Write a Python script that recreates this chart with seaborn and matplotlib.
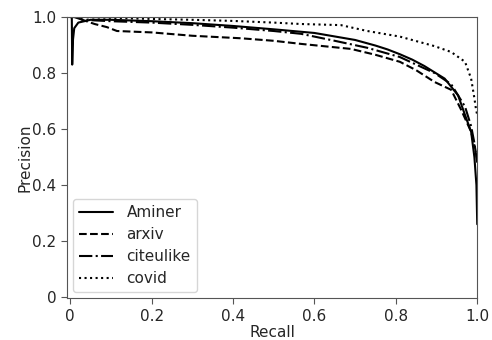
import matplotlib
matplotlib.use("Agg")
import matplotlib.pyplot as plt
import seaborn as sns
import pandas as pd

# Data
recall_aminer = [0.0, 0.004, 0.005, 0.007, 0.01, 0.02, 0.05, 0.1, 0.2, 0.3, 0.4, 0.5,
                 0.6, 0.7, 0.75, 0.78, 0.81, 0.84, 0.87, 0.92, 0.953, 0.97, 0.985, 0.993, 0.998, 1.0]
precision_aminer = [1.0, 1.0, 0.83, 0.92, 0.96, 0.98, 0.99, 0.99, 0.985, 0.978, 0.968, 0.956,
                    0.943, 0.918, 0.898, 0.884, 0.867, 0.848, 0.825, 0.78, 0.72, 0.65, 0.59, 0.50, 0.40, 0.26]

recall_arxiv = [0.0, 0.02, 0.03, 0.06, 0.09, 0.115, 0.2, 0.3, 0.42, 0.5, 0.567, 0.69,
                0.75, 0.81, 0.85, 0.895, 0.936, 0.96, 0.985, 0.995, 1.0]
precision_arxiv = [1.0, 1.0, 0.99, 0.975, 0.964, 0.95, 0.945, 0.933, 0.924, 0.915, 0.904, 0.886,
                   0.865, 0.84, 0.81, 0.768, 0.74, 0.67, 0.59, 0.53, 0.49]

recall_citeulike = [0.0, 0.01, 0.03, 0.1, 0.2, 0.3, 0.4, 0.5, 0.567, 0.65, 0.73, 0.81,
                    0.85, 0.895, 0.936, 0.97, 0.985, 0.993, 1.0]
precision_citeulike = [1.0, 1.0, 0.99, 0.985, 0.98, 0.972, 0.962, 0.95, 0.94, 0.915, 0.89, 0.857,
                       0.83, 0.80, 0.76, 0.68, 0.61, 0.55, 0.48]

recall_covid = [0.0, 0.1, 0.2, 0.3, 0.4, 0.5, 0.567, 0.665, 0.73, 0.81, 0.895, 0.936,
                0.97, 0.985, 0.993, 0.997, 1.0]
precision_covid = [1.0, 0.997, 0.993, 0.99, 0.986, 0.98, 0.975, 0.971, 0.95, 0.93, 0.896, 0.875,
                   0.84, 0.78, 0.71, 0.67, 0.65]

series_names = ["Aminer", "arxiv", "citeulike", "covid"]
series_recall = [recall_aminer, recall_arxiv, recall_citeulike, recall_covid]
series_precision = [precision_aminer, precision_arxiv, precision_citeulike, precision_covid]
linestyles = ["-", "--", "-.", ":"]

tick_values = [0, 0.2, 0.4, 0.6, 0.8, 1.0]
tick_labels = ["0", "0.2", "0.4", "0.6", "0.8", "1.0"]

sns.set_style("ticks")
plt.rcParams["font.family"] = ["DejaVu Sans"]

fig = plt.figure(figsize=(4.92, 3.40), dpi=100)
ax = fig.add_axes([0.136, 0.123, 0.834, 0.827])

for name, r, p, ls in zip(series_names, series_recall, series_precision, linestyles):
    df = pd.DataFrame({"Recall": r, "Precision": p})
    sns.lineplot(data=df, x="Recall", y="Precision", ax=ax, color="black",
                 linestyle=ls, linewidth=1.5, label=name, estimator=None, sort=False)

ax.set_xlim(-0.008, 1.0)
ax.set_ylim(-0.004, 1.0)
ax.set_xticks(tick_values)
ax.set_xticklabels(tick_labels)
ax.set_yticks(tick_values)
ax.set_yticklabels(tick_labels)
ax.tick_params(labelsize=11, length=4, color="#555555")
ax.set_xlabel("Recall", fontsize=11, labelpad=1)
ax.set_ylabel("Precision", fontsize=11, labelpad=0)
for s in ax.spines.values():
    s.set_color("#555555")
    s.set_visible(True)

leg = ax.legend(loc="lower left", fontsize=11, handlelength=2.2, handletextpad=0.9,
                frameon=True, borderaxespad=0.4, labelspacing=0.45)
leg.get_frame().set_edgecolor("#cccccc")

fig.savefig("out.png", dpi=100)
